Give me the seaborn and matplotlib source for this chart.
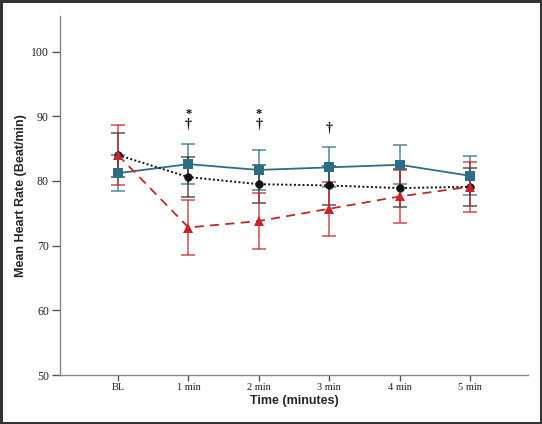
import matplotlib
matplotlib.use("Agg")
import matplotlib.pyplot as plt
import seaborn as sns
import pandas as pd
import numpy as np

categories = ["BL", "1 min", "2 min", "3 min", "4 min", "5 min"]
blue_mean = [81.2, 82.6, 81.7, 82.1, 82.5, 80.8]
blue_err = [2.8, 3.1, 3.1, 3.1, 3.0, 3.0]
black_mean = [84.0, 80.6, 79.5, 79.3, 78.9, 79.1]
black_err = [3.35, 3.15, 2.9, 3.0, 2.9, 2.9]
red_mean = [84.0, 72.8, 73.8, 75.7, 77.6, 79.1]
red_err = [4.7, 4.2, 4.3, 4.2, 4.1, 3.9]
star_pos = ["1 min", "2 min"]
dagger_pos = ["1 min", "2 min", "3 min"]

sns.set_theme(style="white")
fig = plt.figure(figsize=(5.42, 4.24), dpi=100)
fig.patch.set_facecolor("white")
fig.patch.set_edgecolor("#333333")
fig.patch.set_linewidth(2.5)
ax = fig.add_axes([60/542, 1-375/424, (528-60)/542, (375-16)/424])

x = np.arange(len(categories))
df = pd.DataFrame({
    "x": np.concatenate([x, x, x]),
    "y": blue_mean + black_mean + red_mean,
    "g": ["blue"]*6 + ["black"]*6 + ["red"]*6,
})

blue_c = "#2c6e85"
black_c = "#111111"
red_c = "#c0282d"

# error bars
ax.errorbar(x, blue_mean, yerr=blue_err, fmt="none", ecolor=blue_c, elinewidth=1.2,
            capsize=5, capthick=1.2, alpha=0.75, zorder=2)
ax.errorbar(x, black_mean, yerr=black_err, fmt="none", ecolor="#222222", elinewidth=1.2,
            capsize=5, capthick=1.2, alpha=0.7, zorder=2)
ax.errorbar(x, red_mean, yerr=red_err, fmt="none", ecolor=red_c, elinewidth=1.2,
            capsize=5, capthick=1.2, alpha=0.75, zorder=2)

sns.lineplot(data=df[df.g == "blue"], x="x", y="y", ax=ax, color=blue_c, lw=1.3,
             marker="s", markersize=6.5, markeredgewidth=0, zorder=4)
sns.lineplot(data=df[df.g == "black"], x="x", y="y", ax=ax, color=black_c, lw=1.4,
             linestyle=(0, (1, 1.2)), marker="o", markersize=5.5, markeredgewidth=0.5,
             markeredgecolor=black_c, zorder=4)
sns.lineplot(data=df[df.g == "red"], x="x", y="y", ax=ax, color=red_c, lw=1.3,
             linestyle=(0, (5, 3.5)), marker="^", markersize=6.5, markeredgewidth=0, zorder=4)

for c in star_pos:
    i = categories.index(c)
    ax.text(i, 90.4, "*", ha="center", va="center", fontsize=9, fontweight="bold",
            family="Liberation Serif", color="#111111")
for c in dagger_pos:
    i = categories.index(c)
    yv = 88.7 if c != "3 min" else 88.1
    ax.text(i, yv, "†", ha="center", va="center", fontsize=10, fontweight="bold",
            family="Liberation Serif", color="#111111")

ax.set_xlim(-0.824, 5.824)
ax.set_ylim(50, 105.5)
ax.set_xticks(x)
ax.set_xticklabels(categories, family="Liberation Serif", fontsize=7.5)
ax.set_yticks([50, 60, 70, 80, 90, 100])
ax.set_yticklabels(["50", "60", "70", "80", "90", "100"], family="Liberation Serif", fontsize=8.5)
ax.set_xlabel("Time (minutes)", family="Liberation Sans", fontweight="bold", fontsize=9, labelpad=2)
ax.set_ylabel("Mean Heart Rate (Beat/min)", family="Liberation Sans", fontweight="bold", fontsize=9, labelpad=3)

for s in ["top", "right"]:
    ax.spines[s].set_visible(False)
for s in ["left", "bottom"]:
    ax.spines[s].set_color("#888888")
    ax.spines[s].set_linewidth(1.0)
ax.tick_params(axis="both", which="both", direction="out", length=6, width=1.0,
               color="#555555", labelcolor="#222222", pad=2, left=True, bottom=True)
ax.tick_params(axis="x", length=4)
ax.set_facecolor("white")

fig.savefig("out.png", dpi=100, facecolor=fig.get_facecolor(), edgecolor=fig.get_edgecolor())
